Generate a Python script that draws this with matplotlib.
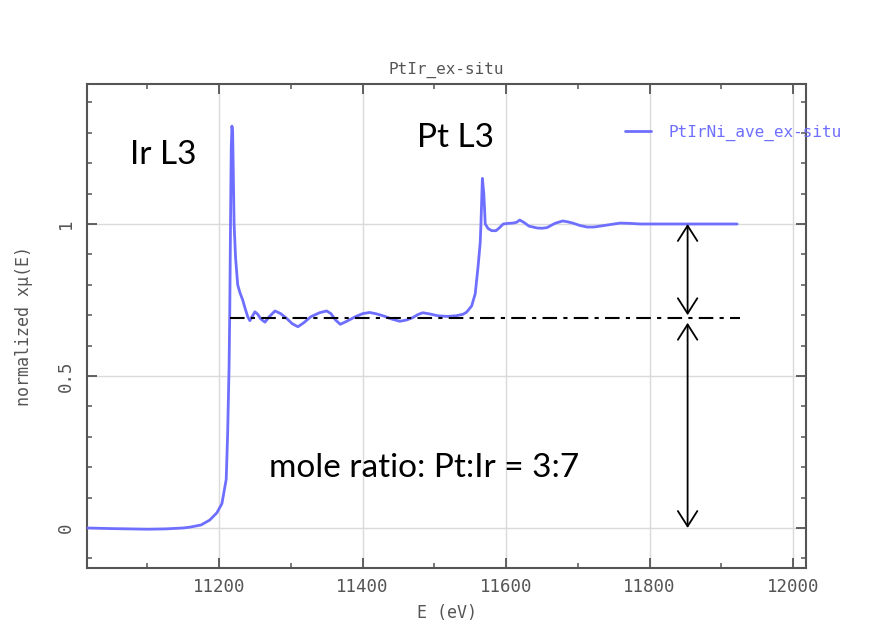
import matplotlib
matplotlib.use("Agg")
import matplotlib.pyplot as plt
from matplotlib.ticker import MultipleLocator, FixedLocator

# ---- data ----
energy = [11016, 11050, 11076, 11100, 11125, 11150, 11160, 11175, 11187, 11197,
          11204, 11210, 11212, 11214, 11215, 11216, 11217, 11218, 11219, 11220,
          11221, 11223, 11226, 11229, 11233, 11236, 11240, 11243, 11246, 11250,
          11254, 11258, 11264, 11270, 11278, 11286, 11294, 11302, 11310, 11318,
          11328, 11340, 11350, 11356, 11362, 11369, 11378, 11390, 11400, 11410,
          11420, 11430, 11441, 11452, 11461, 11470, 11477, 11484, 11494, 11505,
          11518, 11530, 11540, 11545, 11552, 11557, 11561, 11564, 11565, 11567,
          11569, 11571, 11575, 11580, 11586, 11591, 11596, 11603, 11610, 11615,
          11619, 11625, 11632, 11643, 11650, 11657, 11668, 11679, 11686, 11693,
          11703, 11713, 11722, 11731, 11745, 11759, 11773, 11787, 11820, 11860,
          11890, 11922]
mu = [0.000, -0.002, -0.003, -0.004, -0.003, 0.000, 0.003, 0.010, 0.026, 0.050,
      0.080, 0.160, 0.310, 0.530, 0.720, 1.000, 1.250, 1.322, 1.300, 1.150,
      1.000, 0.890, 0.800, 0.775, 0.750, 0.725, 0.695, 0.682, 0.695, 0.711,
      0.703, 0.688, 0.677, 0.695, 0.714, 0.705, 0.690, 0.672, 0.662, 0.675,
      0.695, 0.708, 0.714, 0.705, 0.685, 0.670, 0.680, 0.695, 0.705, 0.709,
      0.704, 0.697, 0.687, 0.680, 0.684, 0.692, 0.702, 0.708, 0.704, 0.698,
      0.696, 0.698, 0.703, 0.710, 0.730, 0.770, 0.860, 0.940, 1.000, 1.150,
      1.100, 1.000, 0.985, 0.978, 0.978, 0.988, 1.000, 1.002, 1.003, 1.006,
      1.013, 1.005, 0.993, 0.987, 0.986, 0.988, 1.002, 1.010, 1.007, 1.003,
      0.995, 0.990, 0.990, 0.993, 0.998, 1.003, 1.002, 1.000, 1.000, 1.000,
      1.000, 1.000]
series_label = "PtIrNi_ave_ex-situ"
title = "PtIr_ex-situ"
x_major = [11200, 11400, 11600, 11800, 12000]
y_major = [0, 0.5, 1]
y_major_labels = ["0", "0.5", "1"]
ref_x = [11215, 11926]
ref_level = 0.69
arrow_x = 11853
arrow_upper = [1.0, 0.70]
arrow_lower = [0.675, 0.0]

axis_font = "DejaVu Sans Mono"
gray = "#555555"

fig = plt.figure(figsize=(8.71, 6.36), dpi=100)
W, H = 871, 636
ax = fig.add_axes([87 / W, 1 - 568 / H, (806 - 87) / W, (568 - 84) / H])
ax.set_xlim(11016, 12018)
ax.set_ylim(-0.1316, 1.4605)

ax.plot(energy, mu, color="#6f6fff", lw=2, label=series_label, zorder=3,
        solid_joinstyle="round", solid_capstyle="round")
ax.plot(ref_x, [ref_level, ref_level], color="black", lw=1.5,
        linestyle=(0, (7, 3, 2, 3)), zorder=4)

arrow_style = "<->,head_length=1.1,head_width=0.7"
for top, bot in (arrow_upper, arrow_lower):
    ax.annotate("", xy=(arrow_x, top), xytext=(arrow_x, bot),
                arrowprops=dict(arrowstyle=arrow_style, color="black", lw=1.3,
                                shrinkA=0, shrinkB=0, mutation_scale=10),
                zorder=5)

# ticks / grid
ax.xaxis.set_major_locator(FixedLocator(x_major))
ax.xaxis.set_minor_locator(MultipleLocator(100))
ax.yaxis.set_major_locator(FixedLocator(y_major))
ax.yaxis.set_minor_locator(MultipleLocator(0.1))
ax.set_yticklabels(y_major_labels)
ax.grid(True, which="major", color="#dadada", lw=1)
ax.set_axisbelow(True)
ax.tick_params(which="both", direction="in", top=True, right=True, color=gray)
ax.tick_params(which="major", length=7, width=1.3)
ax.tick_params(which="minor", length=3.5, width=1.1)
ax.tick_params(axis="x", which="major", labelsize=12.5, labelcolor=gray, pad=7)
ax.tick_params(axis="y", which="major", labelsize=12.5, labelcolor=gray, pad=9,
               labelrotation=90)
for lab in ax.get_xticklabels() + ax.get_yticklabels():
    lab.set_fontfamily(axis_font)
for lab in ax.get_yticklabels():
    lab.set_va("center")
for s in ax.spines.values():
    s.set_color(gray)
    s.set_linewidth(1.5)

ax.set_title(title, fontsize=11.5, color=gray, family=axis_font, pad=7)
ax.set_xlabel("E (eV)", fontsize=12, color=gray, family=axis_font)
ax.xaxis.set_label_coords(0.5, -(604 - 568) / 484)
ax.set_ylabel("normalized xμ(E)", fontsize=12, color=gray, family=axis_font)
ax.yaxis.set_label_coords((33 - 87) / 719, 0.5)

leg = ax.legend(loc="center left", bbox_to_anchor=(625 / W, 1 - 133 / H),
                bbox_transform=fig.transFigure, frameon=False, borderpad=0,
                borderaxespad=0, handlelength=1.6, handletextpad=1.1,
                prop={"family": axis_font, "size": 11.5}, labelcolor="#6f6fff")

# annotations
txt_font = "Lato"
ax.text(11122, 1.227, "Ir L3", fontsize=24, family=txt_font, ha="center", va="center")
ax.text(11529, 1.283, "Pt L3", fontsize=24, family=txt_font, ha="center", va="center")
ax.text(11486, 0.197, "mole ratio: Pt:Ir = 3:7", fontsize=24, family=txt_font,
        ha="center", va="center")

fig.savefig("out.png", dpi=100, facecolor="white")
